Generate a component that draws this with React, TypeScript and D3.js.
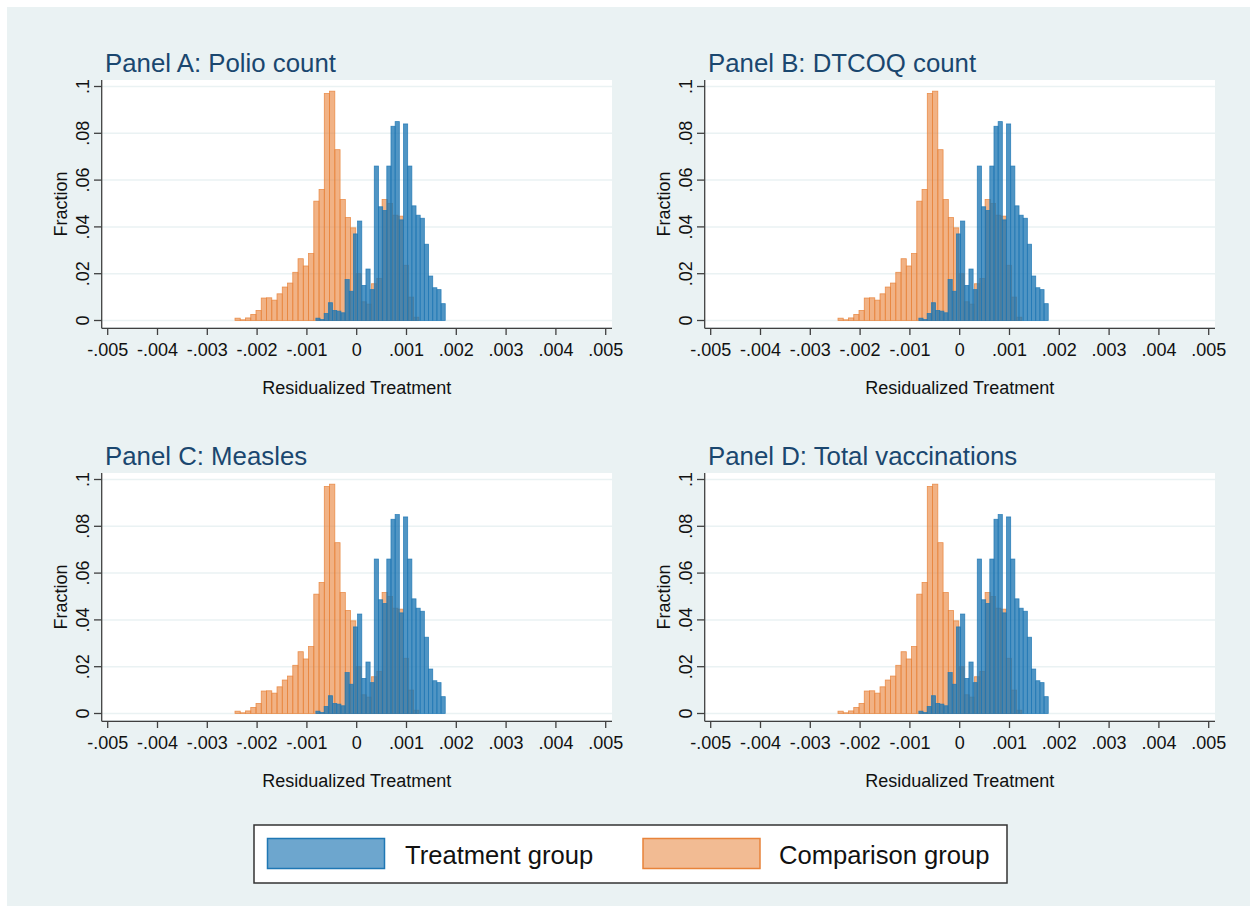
import React, { useRef, useEffect } from "react";
import * as d3 from "d3";

// panel titles (A/C and B/D show the same distributions)
const panelTitles = [
  "Panel A: Polio count",
  "Panel B: DTCOQ count",
  "Panel C: Measles",
  "Panel D: Total vaccinations",
];

// comparison group histogram (orange): first bin edge, bin width, fraction per bin
const comparisonStart = -0.002444;
const comparisonWidth = 0.0001055;
const comparisonFraction = [
  0.001, 0.0003, 0.0011, 0.0026, 0.0043, 0.0096, 0.0097, 0.0087, 0.0114, 0.0143,
  0.016, 0.0206, 0.0264, 0.0233, 0.0286, 0.051, 0.056, 0.097, 0.098, 0.073,
  0.0517, 0.044, 0.0396, 0.02, 0.008, 0.007, 0.0157, 0.018, 0.0517, 0.05,
  0.045, 0.0446, 0.0236, 0.01, 0.0014,
];

// treatment group histogram (blue)
const treatmentStart = -0.00082;
const treatmentWidth = 0.0000838;
const treatmentFraction = [
  0.001, 0.0004, 0.003, 0.0076, 0.0043, 0.004, 0.0033, 0.0175, 0.0125, 0.037,
  0.0425, 0.015, 0.022, 0.0132, 0.066, 0.0486, 0.047, 0.066, 0.083, 0.085,
  0.043, 0.084, 0.066, 0.049, 0.045, 0.0437, 0.0326, 0.019, 0.014, 0.0132,
  0.0072,
];

const xTicks = [-0.005, -0.004, -0.003, -0.002, -0.001, 0, 0.001, 0.002, 0.003, 0.004, 0.005];
const xTickLabels = ["-.005", "-.004", "-.003", "-.002", "-.001", "0", ".001", ".002", ".003", ".004", ".005"];
const yTicks = [0, 0.02, 0.04, 0.06, 0.08, 0.1];
const yTickLabels = ["0", ".02", ".04", ".06", ".08", ".1"];

const legendLabels = ["Treatment group", "Comparison group"];

const BLUE = "#1f77b4";
const ORANGE = "#e8833a";
const TITLE = "#1a476f";
const BG = "#eaf2f3";
const FONT = "'Liberation Sans', Arial, sans-serif";

const App = () => {
  const svgRef = useRef<SVGSVGElement>(null);

  useEffect(() => {
    const svg = d3.select(svgRef.current);
    svg.selectAll("*").remove();

    const width = 1250;
    const height = 911;
    svg.attr("width", width).attr("height", height);

    // background of the graph region
    svg.append("rect").attr("x", 0).attr("y", 0).attr("width", width).attr("height", height).attr("fill", "#fff");
    svg.append("rect").attr("x", 7).attr("y", 7).attr("width", width - 7).attr("height", 899).attr("fill", BG);

    const comparisonBins = comparisonFraction.map((v, i) => ({
      x0: comparisonStart + i * comparisonWidth,
      x1: comparisonStart + (i + 1) * comparisonWidth,
      v,
    }));
    const treatmentBins = treatmentFraction.map((v, i) => ({
      x0: treatmentStart + i * treatmentWidth,
      x1: treatmentStart + (i + 1) * treatmentWidth,
      v,
    }));

    panelTitles.forEach((title, p) => {
      const ox = (p % 2) * 603;
      const oy = Math.floor(p / 2) * 393;
      const g = svg.append("g").attr("transform", `translate(${ox},${oy})`);

      const x = d3.scaleLinear().domain([-0.005, 0.005]).range([107.7, 605.7]);
      const y = d3.scaleLinear().domain([0, 0.1]).range([320.5, 86.5]);

      // plot region
      g.append("rect").attr("x", 102).attr("y", 80).attr("width", 510).attr("height", 247).attr("fill", "#fff");

      // gridlines
      g.selectAll(".grid")
        .data(yTicks)
        .enter()
        .append("line")
        .attr("x1", 102)
        .attr("x2", 612)
        .attr("y1", d => y(d))
        .attr("y2", d => y(d))
        .attr("stroke", BG)
        .attr("stroke-width", 1.5);

      const drawBars = (bins, color, fillOpacity) => {
        g.append("g")
          .selectAll("rect")
          .data(bins)
          .enter()
          .append("rect")
          .attr("x", d => x(d.x0))
          .attr("width", d => x(d.x1) - x(d.x0))
          .attr("y", d => y(d.v))
          .attr("height", d => y(0) - y(d.v))
          .attr("fill", color)
          .attr("fill-opacity", fillOpacity)
          .attr("stroke", color)
          .attr("stroke-opacity", 0.85)
          .attr("stroke-width", 0.8);
      };
      drawBars(comparisonBins, ORANGE, 0.62);
      drawBars(treatmentBins, BLUE, 0.78);

      // axes lines
      g.append("line").attr("x1", 101.7).attr("x2", 101.7).attr("y1", 80).attr("y2", 328.3)
        .attr("stroke", "#404040").attr("stroke-width", 1.3);
      g.append("line").attr("x1", 101.7).attr("x2", 612).attr("y1", 328.3).attr("y2", 328.3)
        .attr("stroke", "#404040").attr("stroke-width", 1.3);

      // x ticks
      xTicks.forEach((t, i) => {
        g.append("line").attr("x1", x(t)).attr("x2", x(t)).attr("y1", 328.3).attr("y2", 335)
          .attr("stroke", "#404040").attr("stroke-width", 1.3);
        g.append("text")
          .attr("x", x(t))
          .attr("y", 356)
          .attr("text-anchor", "middle")
          .style("font-family", FONT)
          .style("font-size", "18px")
          .attr("fill", "#111")
          .text(xTickLabels[i]);
      });

      // y ticks, labels rotated like Stata
      yTicks.forEach((t, i) => {
        g.append("line").attr("x1", 94).attr("x2", 101.7).attr("y1", y(t)).attr("y2", y(t))
          .attr("stroke", "#404040").attr("stroke-width", 1.3);
        g.append("text")
          .attr("transform", `translate(88.5,${y(t)}) rotate(-90)`)
          .attr("text-anchor", "middle")
          .style("font-family", FONT)
          .style("font-size", "18px")
          .attr("fill", "#111")
          .text(yTickLabels[i]);
      });

      g.append("text")
        .attr("transform", `translate(67,204) rotate(-90)`)
        .attr("text-anchor", "middle")
        .style("font-family", FONT)
        .style("font-size", "18px")
        .attr("fill", "#111")
        .text("Fraction");

      g.append("text")
        .attr("x", x(0))
        .attr("y", 394)
        .attr("text-anchor", "middle")
        .style("font-family", FONT)
        .style("font-size", "18px")
        .attr("fill", "#111")
        .text("Residualized Treatment");

      g.append("text")
        .attr("x", 105)
        .attr("y", 72)
        .style("font-family", FONT)
        .style("font-size", "25.8px")
        .attr("fill", TITLE)
        .text(title);
    });

    // legend
    const legend = svg.append("g");
    legend.append("rect").attr("x", 254).attr("y", 825).attr("width", 753).attr("height", 58)
      .attr("fill", "#fff").attr("stroke", "#333").attr("stroke-width", 1.5);
    const items = [
      { label: legendLabels[0], color: BLUE, op: 0.65, sx: 267.5, tx: 405 },
      { label: legendLabels[1], color: ORANGE, op: 0.55, sx: 643, tx: 779 },
    ];
    items.forEach(it => {
      legend.append("rect").attr("x", it.sx).attr("y", 838.5).attr("width", 117).attr("height", 30)
        .attr("fill", it.color).attr("fill-opacity", it.op)
        .attr("stroke", it.color).attr("stroke-width", 1.5);
      legend.append("text")
        .attr("x", it.tx)
        .attr("y", 863.5)
        .style("font-family", FONT)
        .style("font-size", "25.6px")
        .attr("fill", "#111")
        .text(it.label);
    });
  }, []);

  return (
    <div style={{ position: "absolute", left: 0, top: 0 }}>
      <svg ref={svgRef}></svg>
    </div>
  );
};

export default App;
